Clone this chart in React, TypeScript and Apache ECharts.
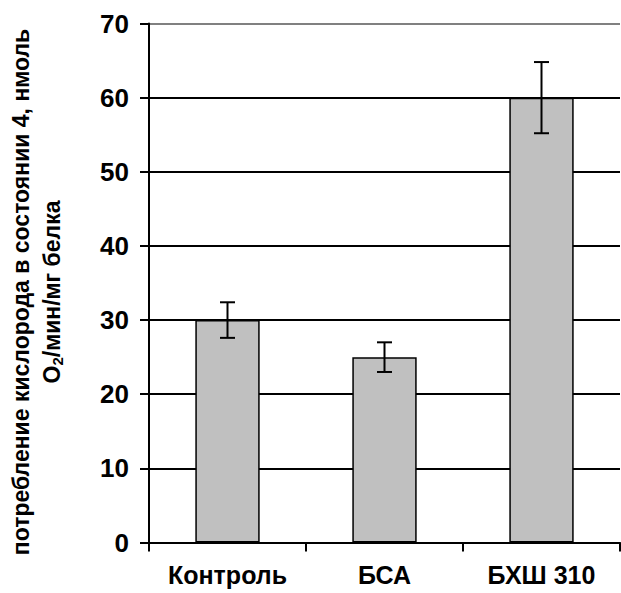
import React, { useEffect, useRef } from "react";
import * as echarts from "echarts";

const categories = ["Контроль", "БСА", "БХШ 310"];
const values = [30, 25, 60];
const errors = [2.4, 2.0, 4.8];
const yTicks = [0, 10, 20, 30, 40, 50, 60, 70];

export default function App() {
  const ref = useRef<HTMLDivElement>(null);
  useEffect(() => {
    document.body.style.margin = "0";
    const chart = echarts.init(ref.current!, null, { renderer: "svg" });
    const font = "Liberation Sans, Arial, sans-serif";
    const errData = values.map((v, i) => [i, v - errors[i], v + errors[i]]);
    chart.setOption({
      animation: false,
      backgroundColor: "#fff",
      grid: { left: 149, right: 1, top: 23.5, bottom: 50.5, containLabel: false },
      xAxis: {
        type: "category",
        data: categories,
        axisLine: { lineStyle: { color: "#000", width: 2 } },
        axisTick: { show: true, length: 9, lineStyle: { color: "#000", width: 2 } },
        axisLabel: { color: "#000", fontFamily: font, fontWeight: "bold", fontSize: 25, margin: 20 },
      },
      yAxis: {
        type: "value",
        min: yTicks[0],
        max: yTicks[yTicks.length - 1],
        interval: 10,
        axisLine: { show: true, lineStyle: { color: "#000", width: 2 } },
        axisTick: { show: true, length: 9, lineStyle: { color: "#000", width: 2 } },
        axisLabel: { color: "#000", fontFamily: font, fontWeight: "bold", fontSize: 26, margin: 20 },
        splitLine: {
          show: true,
          lineStyle: {
            color: ["#000", "#000", "#000", "#000", "#000", "#000", "#000", "#808080"],
            width: 2,
          },
        },
      },
      graphic: [
        {
          type: "text",
          x: 36,
          y: 292,
          rotation: Math.PI / 2,
          style: {
            text: "{a|потребление кислорода в состоянии 4, нмоль}\n{a|O}{s|2}{a|/мин/мг белка}",
            align: "center",
            verticalAlign: "middle",
            lineHeight: 31,
            rich: {
              a: { fontFamily: font, fontWeight: "bold", fontSize: 23, fill: "#000", lineHeight: 31 },
              s: { fontFamily: font, fontWeight: "bold", fontSize: 15, fill: "#000", padding: [11, 0, 0, 0], lineHeight: 31 },
            },
          },
        },
      ],
      series: [
        {
          type: "bar",
          data: values,
          barWidth: "41%",
          itemStyle: { color: "#c0c0c0", borderColor: "#000", borderWidth: 1.5 },
        },
        {
          type: "custom",
          data: errData,
          z: 10,
          renderItem: (params: any, api: any) => {
            const x = api.value(0);
            const lo = api.coord([x, api.value(1)]);
            const hi = api.coord([x, api.value(2)]);
            const hw = 7.5;
            const st = { stroke: "#000", lineWidth: 2 };
            return {
              type: "group",
              children: [
                { type: "line", shape: { x1: lo[0], y1: lo[1], x2: hi[0], y2: hi[1] }, style: st },
                { type: "line", shape: { x1: lo[0] - hw, y1: lo[1], x2: lo[0] + hw, y2: lo[1] }, style: st },
                { type: "line", shape: { x1: hi[0] - hw, y1: hi[1], x2: hi[0] + hw, y2: hi[1] }, style: st },
              ],
            };
          },
        },
      ],
    });
    return () => chart.dispose();
  }, []);
  return <div ref={ref} style={{ width: 621, height: 593 }} />;
}
